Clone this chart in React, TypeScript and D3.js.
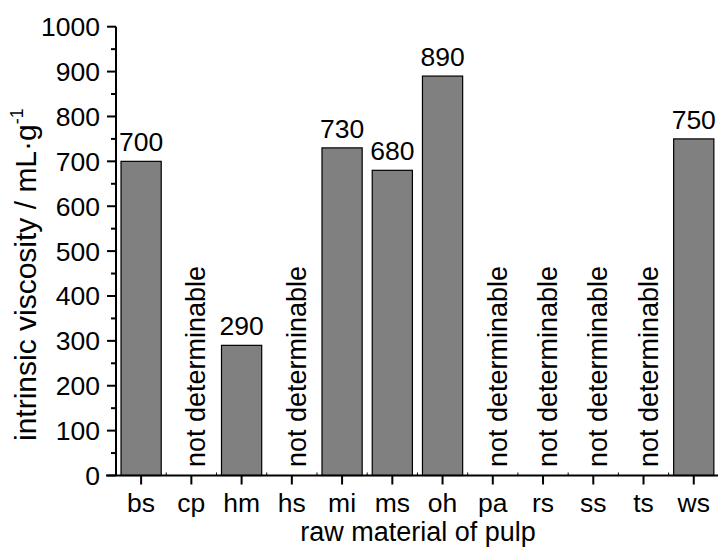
import React from "react";
import * as d3 from "d3";

const categories = ["bs", "cp", "hm", "hs", "mi", "ms", "oh", "pa", "rs", "ss", "ts", "ws"];
const values: (number | null)[] = [700, null, 290, null, 730, 680, 890, null, null, null, null, 750];
const yTicks = [0, 100, 200, 300, 400, 500, 600, 700, 800, 900, 1000];
const yMinorTicks = [50, 150, 250, 350, 450, 550, 650, 750, 850, 950];
const missingLabel = "not determinable";
const xTitle = "raw material of pulp";

const W = 718;
const H = 553;
const FONT = "'Liberation Sans', Arial, sans-serif";
const FS = 26.5;

export default function App() {
  const x0 = 116;
  const x = d3
    .scaleBand<string>()
    .domain(categories)
    .range([x0, x0 + 12 * 50.24])
    .paddingInner(0.2)
    .paddingOuter(0.1);
  const y = d3.scaleLinear().domain([0, 1000]).range([475.5, 26.7]);
  const bw = x.bandwidth();
  const boundaries = categories.map((c) => (x(c) as number) - x.step() * 0.1).concat([x0 + 12 * 50.24]);

  return (
    <svg
      width={W}
      height={H}
      style={{ position: "absolute", left: 0, top: 0, background: "#fff" }}
      fontFamily={FONT}
    >
      {categories.map((c, i) => {
        const v = values[i];
        const cx = (x(c) as number) + bw / 2;
        if (v === null) {
          return (
            <text
              key={c}
              transform={`translate(${cx + 14},${467}) rotate(-90)`}
              fontSize={27}
              textAnchor="start"
              fill="#000"
            >
              {missingLabel}
            </text>
          );
        }
        return (
          <g key={c}>
            <rect
              x={x(c) as number}
              y={y(v)}
              width={bw}
              height={y(0) - y(v)}
              fill="#808080"
              stroke="#000"
              strokeWidth={1.2}
            />
            <text x={cx} y={y(v) - 10} fontSize={FS} textAnchor="middle" fill="#000">
              {v}
            </text>
          </g>
        );
      })}

      <line x1={x0} x2={x0} y1={y(1000)} y2={y(0)} stroke="#000" strokeWidth={2} />
      {yTicks.map((t) => (
        <g key={t}>
          <line x1={x0 - 9} x2={x0} y1={y(t)} y2={y(t)} stroke="#000" strokeWidth={2} />
          <text x={x0 - 16} y={y(t) + 9.5} fontSize={FS} textAnchor="end" fill="#000">
            {t}
          </text>
        </g>
      ))}
      {yMinorTicks.map((t) => (
        <line key={t} x1={x0 - 5} x2={x0} y1={y(t)} y2={y(t)} stroke="#000" strokeWidth={2} />
      ))}

      <line x1={x0 - 10} x2={W + 2} y1={y(0)} y2={y(0)} stroke="#000" strokeWidth={2} />
      {boundaries.map((b, i) => (
        <line key={i} x1={b} x2={b} y1={y(0)} y2={y(0) - 3} stroke="#000" strokeWidth={1} />
      ))}
      {categories.map((c) => {
        const cx = (x(c) as number) + bw / 2;
        return (
          <g key={c}>
            <line x1={cx} x2={cx} y1={y(0)} y2={y(0) + 9} stroke="#000" strokeWidth={2} />
            <text x={cx} y={512} fontSize={FS} textAnchor="middle" fill="#000">
              {c}
            </text>
          </g>
        );
      })}

      <text x={418} y={541} fontSize={27} textAnchor="middle" fill="#000">
        {xTitle}
      </text>
      <text transform="translate(36,441) rotate(-90)" fontSize={30} textAnchor="start" fill="#000">
        intrinsic viscosity / mL·g
        <tspan fontSize={18} dy={-13}>
          -1
        </tspan>
      </text>
    </svg>
  );
}
